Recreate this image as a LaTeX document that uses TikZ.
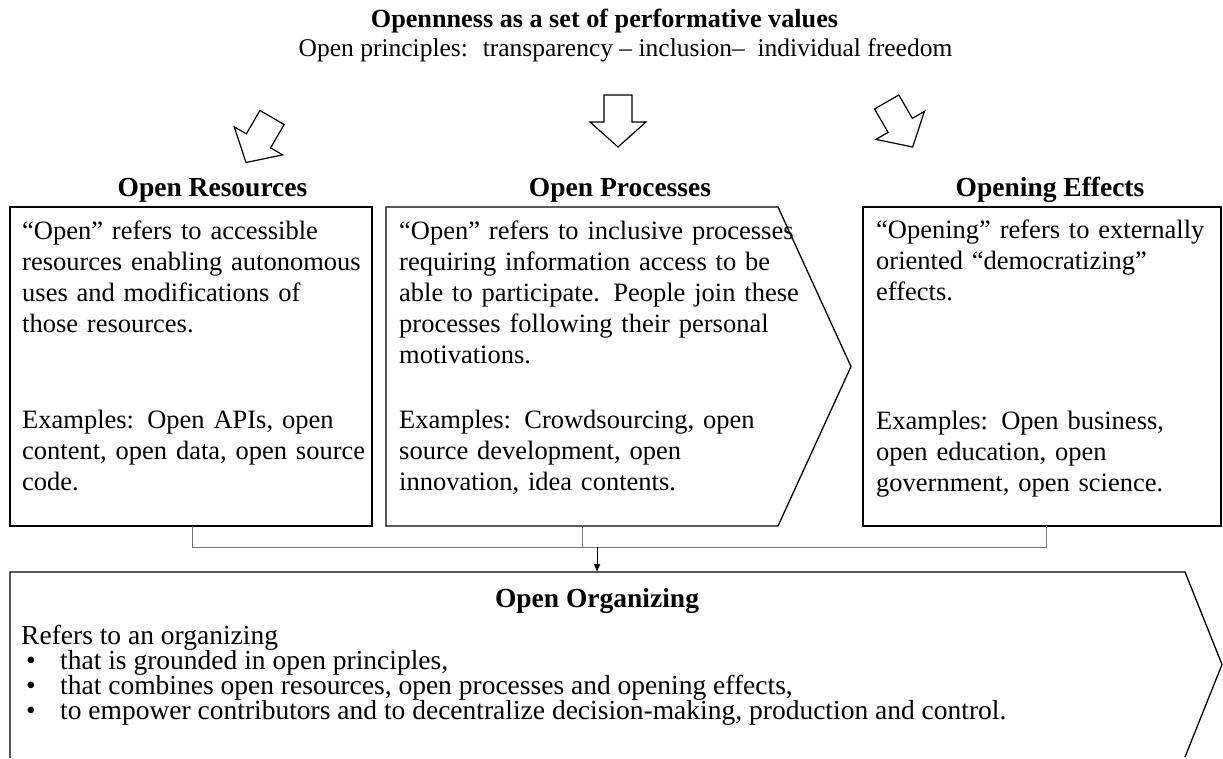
\documentclass[tikz,border=0pt]{standalone}
\usepackage{fontspec}
\setmainfont{Liberation Serif}
\usetikzlibrary{arrows.meta}
\tikzset{
  frame/.style={draw=black, line width=1.3pt},
  blockarrow/.style={draw=black, line width=1.2pt, fill=white, line join=miter},
  conn/.style={draw=black!55, line width=0.9pt},
  arrowconn/.style={draw=black, line width=0.9pt, -{Latex[length=8pt,width=7pt]}},
  body/.style={font=\fontsize{26.5}{31}\selectfont, align=left, inner sep=0pt, anchor=north west, text width=#1},
  line/.style={font=\fontsize{27.5}{31}\selectfont, inner sep=0pt, anchor=base west},
  head/.style={font=\fontsize{27.5}{31}\bfseries\selectfont, inner sep=0pt, anchor=base},
  sub/.style={font=\fontsize{25.5}{31}\selectfont, inner sep=0pt, anchor=base},
}
\begin{document}
\begin{tikzpicture}[x=1pt,y=-1pt]
\useasboundingbox (0,0) rectangle (1223,758);
% titles
\node[head, font=\fontsize{26.2}{31}\bfseries\selectfont] (title) at (604.5,27) {Opennness as a set of performative values};
\node[sub] (subtitle) at (625.5,56) {Open principles: \ transparency -- inclusion-- \ individual freedom};
% block arrows
\draw[blockarrow, shift={(618,121)}] (-14,-26) -- (14,-26) -- (14,1) -- (28,1) -- (0,26) -- (-28,1) -- (-14,1) -- cycle;
\draw[blockarrow, shift={(899.7,124.5)}, rotate=30] (-14,-26) -- (14,-26) -- (14,1) -- (28,1) -- (0,26) -- (-28,1) -- (-14,1) -- cycle;
\draw[blockarrow, shift={(259,140)}, rotate=-30] (-14,-26) -- (14,-26) -- (14,1) -- (28,1) -- (0,26) -- (-28,1) -- (-14,1) -- cycle;
% headings
\node[head] (hres) at (212.5,196) {Open Resources};
\node[head] (hproc) at (620,196) {Open Processes};
\node[head] (heff) at (1050,196) {Opening Effects};
% boxes
\draw[frame] (10,207) rectangle (372,526);
\draw[frame] (386,207) -- (778,207) -- (851,366.5) -- (778,526) -- (386,526) -- cycle;
\draw[frame] (863,207) rectangle (1221,526);
\draw[frame] (10,758) -- (10,572) -- (1185,572) -- (1222,664.5) -- (1185,757);
% box texts
\node[body=345pt] (rdesc) at (22,221) {\textquotedblleft Open\textquotedblright\ refers to accessible\\ resources enabling autonomous\\ uses and modifications of\\ those resources.};
\node[body=345pt] (rex) at (22,410) {Examples: Open APIs, open\\ content, open data, open source\\ code.};
\node[body=400pt] (pdesc) at (399,221) {\textquotedblleft Open\textquotedblright\ refers to inclusive processes\\ requiring information access to be\\ able to participate. People join these\\ processes following their personal\\ motivations.};
\node[body=400pt] (pex) at (399,410) {Examples: Crowdsourcing, open\\ source development, open\\ innovation, idea contents.};
\node[body=340pt] (edesc) at (876,220) {\textquotedblleft Opening\textquotedblright\ refers to externally\\ oriented \textquotedblleft democratizing\textquotedblright\\ effects.};
\node[body=340pt] (eex) at (876,411) {Examples: Open business,\\ open education, open\\ government, open science.};
% connectors
\coordinate (rb) at (192,526);
\coordinate (pb) at (582,526);
\coordinate (eb) at (1046,526);
\coordinate (busl) at (192,547);
\coordinate (busr) at (1046,547);
\coordinate (busm) at (582,547);
\coordinate (arrs) at (597,547);
\coordinate (orgtop) at (597,572);
\draw[conn] (rb) -- (busl) -- (busr) -- (eb);
\draw[conn] (pb) -- (busm);
\draw[arrowconn] (arrs) -- (orgtop);
% bottom text
\node[head] (horg) at (597,607) {Open Organizing};
\node[line] (l0) at (21,644) {Refers to an organizing};
\node[line] (b1) at (26,669) {\textbullet};
\node[line] (l1) at (60,669) {that is grounded in open principles,};
\node[line] (b2) at (26,694) {\textbullet};
\node[line] (l2) at (60,694) {that combines open resources, open processes and opening effects,};
\node[line] (b3) at (26,719) {\textbullet};
\node[line] (l3) at (60,719) {to empower contributors and to decentralize decision-making, production and control.};
\end{tikzpicture}
\end{document}
